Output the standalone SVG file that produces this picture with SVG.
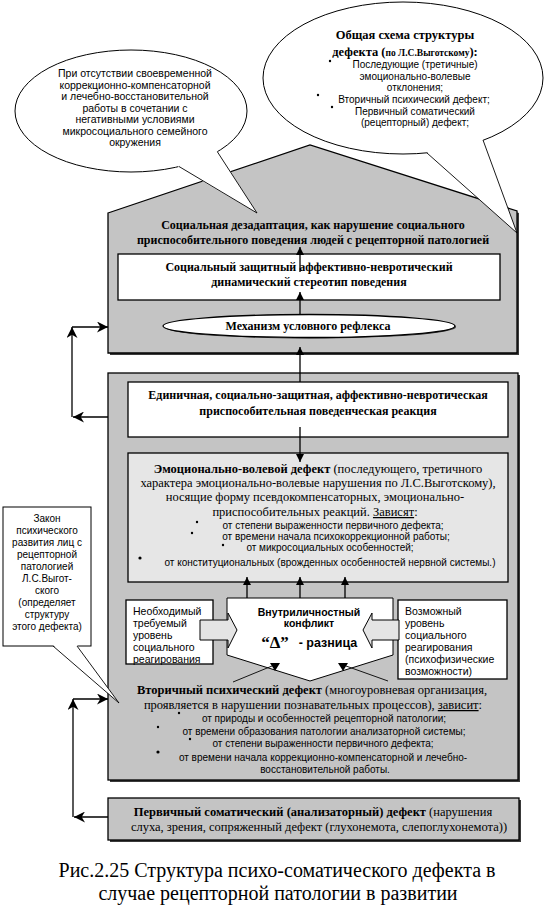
<svg xmlns="http://www.w3.org/2000/svg" width="545" height="917" viewBox="0 0 545 917">
<style>
.sb{font-family:"Liberation Serif",serif;font-weight:bold;font-size:12px;fill:#000}
.sr{font-family:"Liberation Serif",serif;font-size:12.5px;fill:#000}
.ss{font-family:"Liberation Sans",Arial,sans-serif;font-size:10px;fill:#000}
.sm{font-family:"Liberation Sans",Arial,sans-serif;font-size:10.5px;fill:#000}
.blk{fill:#c4c4c4;stroke:#000;stroke-width:1.3}
.shd{fill:#3a3a3a}
.wb{fill:#fff;stroke:#000;stroke-width:1.3}
.ln{stroke:#000;stroke-width:1.3;fill:none}
.thin{stroke:#000;stroke-width:0.9;fill:none}
</style>
<defs>
<marker id="ah" markerWidth="8" markerHeight="8" viewBox="0 0 10 10" refX="10" refY="5" orient="auto" markerUnits="userSpaceOnUse">
<path d="M0,0 L10,5 L0,10 z" fill="#000"/>
</marker>
<marker id="an" markerWidth="11" markerHeight="11" viewBox="0 0 10 10" refX="10" refY="5" orient="auto" markerUnits="userSpaceOnUse">
<path d="M0,0 L10,5 L0,10 L3,5 z" fill="#000"/>
</marker>
</defs>
<rect width="545" height="917" fill="#fff"/>

<g id="house">
<polygon class="shd" points="110,215 312,147 519,213 519,355 110,355"/>
<polygon class="blk" points="108,213 310,145 517,211 517,353 108,353"/>
<text class="sb" x="313" y="229" text-anchor="middle">Социальная дезадаптация, как нарушение социального</text>
<text class="sb" x="313" y="244" text-anchor="middle">приспособительного поведения людей с рецепторной патологией</text>
</g>
<g id="stereotype">
<rect class="wb" x="118" y="254" width="382" height="46"/>
<text class="sb" x="309" y="271" text-anchor="middle">Социальный защитный аффективно-невротический</text>
<text class="sb" x="309" y="286" text-anchor="middle">динамический стереотип поведения</text>
</g>
<g id="reflex">
<ellipse cx="310" cy="327" rx="146" ry="11.5" fill="#333"/>
<ellipse class="wb" cx="309" cy="326" rx="146" ry="11.5"/>
<text class="sb" x="308" y="330" text-anchor="middle">Механизм условного рефлекса</text>
</g>

<g id="callout-left">
<ellipse cx="131" cy="111" rx="116" ry="61" fill="#fff" stroke="#000" stroke-width="1"/>
<polygon points="178,167 257,213 218,152 200,140" fill="#fff"/>
<polyline class="thin" points="179,166.5 257,213 217.5,152"/>
<g class="sm" text-anchor="middle">
<text x="135" y="77">При отсутствии своевременной</text>
<text x="135" y="88.5">коррекционно-компенсаторной</text>
<text x="135" y="100">и лечебно-восстановительной</text>
<text x="135" y="111.5">работы в сочетании с</text>
<text x="135" y="123">негативными условиями</text>
<text x="135" y="134.5">микросоциального семейного</text>
<text x="135" y="146">окружения</text>
</g>
</g>

<g id="callout-right">
<ellipse cx="403" cy="78" rx="140" ry="76" fill="#fff" stroke="#000" stroke-width="1"/>
<polygon points="427,153 517,233 483,140 460,120" fill="#fff"/>
<polyline class="thin" points="427,153 517,233 483,140"/>
<text class="sb" x="405" y="39" text-anchor="middle" style="font-size:12.5px">Общая схема структуры</text>
<text class="sb" x="405" y="56" text-anchor="middle" style="font-size:12.5px">дефекта (<tspan style="font-size:9.5px">по Л.С.Выготскому</tspan>):</text>
<g class="ss" text-anchor="middle">
<text x="415" y="68">Последующие (третичные)</text>
<text x="415" y="80">эмоционально-волевые</text>
<text x="415" y="91">отклонения;</text>
<text x="414" y="103">Вторичный психический дефект;</text>
<text x="415" y="115">Первичный соматический</text>
<text x="415" y="126">(рецепторный) дефект;</text>
</g>
<circle cx="330" cy="61" r="1.2"/>
<circle cx="318" cy="95" r="1.2"/>
<circle cx="332" cy="107" r="1.2"/>
</g>

<g id="lower-block">
<rect class="shd" x="110" y="375" width="410" height="407"/>
<rect class="blk" x="108" y="373" width="410" height="407"/>
</g>
<g id="reaction">
<rect class="wb" x="128" y="382" width="380" height="55"/>
<text class="sb" x="318" y="399" text-anchor="middle">Единичная, социально-защитная, аффективно-невротическая</text>
<text class="sb" x="318" y="415" text-anchor="middle">приспособительная поведенческая реакция</text>
</g>
<g id="emotional">
<rect x="128" y="453" width="380" height="129" fill="#e6e6e6" stroke="#000" stroke-width="1.3"/>
<g class="sr" text-anchor="middle">
<text x="318" y="473"><tspan font-weight="bold">Эмоционально-волевой дефект</tspan> (последующего, третичного</text>
<text x="318" y="487">характера эмоционально-волевые нарушения по Л.С.Выготскому),</text>
<text x="315" y="501">носящие форму псевдокомпенсаторных, эмоционально-</text>
<text x="315" y="516">приспособительных реакций. <tspan text-decoration="underline">Зависят</tspan>:</text>
</g>
<g class="ss" text-anchor="middle">
<text x="333" y="529">от степени выраженности первичного дефекта;</text>
<text x="336" y="540">от времени начала психокоррекционной работы;</text>
<text x="330" y="551">от микросоциальных особенностей;</text>
<text x="330" y="566">от конституциональных (врожденных особенностей нервной системы.)</text>
</g>
<circle cx="197" cy="522" r="1.2"/>
<circle cx="192" cy="533" r="1.2"/>
<circle cx="223" cy="545" r="1.2"/>
<circle cx="140" cy="558" r="1.6"/>
</g>

<g id="need-box">
<rect class="wb" x="126" y="600" width="87" height="64" stroke-width="1"/>
<g class="sm">
<text x="133" y="615">Необходимый</text>
<text x="133" y="627">требуемый</text>
<text x="133" y="639">уровень</text>
<text x="133" y="651">социального</text>
<text x="133" y="663">реагирования</text>
</g>
</g>
<g id="possible-box">
<rect class="wb" x="398" y="600" width="109" height="79" stroke-width="1"/>
<g class="sm">
<text x="405" y="615">Возможный</text>
<text x="405" y="627">уровень</text>
<text x="405" y="639">социального</text>
<text x="405" y="651">реагирования</text>
<text x="405" y="663">(психофизические</text>
<text x="405" y="675">возможности)</text>
</g>
</g>
<g id="conflict">
<polygon points="227,598 393,598 393,655 310,681 227,655" fill="#fff" stroke="#000" stroke-width="1"/>
<text x="309" y="616" text-anchor="middle" style="font-family:'Liberation Sans',Arial,sans-serif;font-weight:bold;font-size:10.5px">Внутриличностный</text>
<text x="309" y="627" text-anchor="middle" style="font-family:'Liberation Sans',Arial,sans-serif;font-weight:bold;font-size:10.5px">конфликт</text>
<text x="275" y="648" text-anchor="middle" style="font-family:'Liberation Serif',serif;font-weight:bold;font-size:17px">“Δ”</text>
<text x="328" y="647" text-anchor="middle" style="font-family:'Liberation Sans',Arial,sans-serif;font-weight:bold;font-size:12.5px">- разница</text>
</g>
<g id="hollow-arrows">
<polygon points="200,620 228,620 228,613 237,630 228,648 228,640 200,640" fill="#e4e4e4" stroke="#000" stroke-width="1"/>
<polygon points="399,620 372,620 372,613 363,630 372,648 372,640 399,640" fill="#e4e4e4" stroke="#000" stroke-width="1"/>
</g>

<g id="secondary">
<g class="sr" text-anchor="middle">
<text x="312" y="694"><tspan font-weight="bold">Вторичный психический дефект</tspan> (многоуровневая организация,</text>
<text x="313" y="709">проявляется в нарушении познавательных процессов), <tspan text-decoration="underline">зависит</tspan>:</text>
</g>
<g class="ss" text-anchor="middle">
<text x="324" y="722">от природы и особенностей рецепторной патологии;</text>
<text x="324" y="735">от времени образования патологии анализаторной системы;</text>
<text x="323" y="747">от степени выраженности первичного дефекта;</text>
<text x="323" y="761">от времени начала коррекционно-компенсаторной и лечебно-</text>
<text x="325" y="773">восстановительной работы.</text>
</g>
<circle cx="179" cy="713" r="1.2"/>
<circle cx="158" cy="727" r="1.2"/>
<circle cx="190" cy="739" r="1.2"/>
<circle cx="158" cy="752" r="1.6"/>
</g>

<g id="primary">
<rect class="shd" x="110" y="800" width="411" height="42"/>
<rect class="blk" x="108" y="798" width="411" height="42"/>
<g class="sr" text-anchor="middle">
<text x="313" y="816"><tspan font-weight="bold">Первичный соматический (анализаторный) дефект</tspan> (нарушения</text>
<text x="319" y="831">слуха, зрения, сопряженный дефект  (глухонемота, слепоглухонемота))</text>
</g>
</g>

<g id="law-callout">
<rect x="3" y="507" width="88" height="139" fill="#fff" stroke="#000" stroke-width="1"/>
<polygon points="53,645 77,645 119,703" fill="#fff"/>
<polyline class="thin" points="53,646 119,703 77,646"/>
<g class="ss" text-anchor="middle">
<text x="47" y="522">Закон</text>
<text x="47" y="534">психического</text>
<text x="47" y="546">развития лиц с</text>
<text x="47" y="558">рецепторной</text>
<text x="47" y="570">патологией</text>
<text x="47" y="582">Л.С.Выгот-</text>
<text x="47" y="594">ского</text>
<text x="47" y="606">(определяет</text>
<text x="47" y="618">структуру</text>
<text x="47" y="630">этого дефекта)</text>
</g>
</g>

<g id="connectors">
<line class="ln" x1="300" y1="272" x2="300" y2="247" marker-end="url(#ah)"/>
<line class="ln" x1="300" y1="315" x2="300" y2="292" marker-end="url(#ah)"/>
<line class="ln" x1="300" y1="382" x2="300" y2="347" marker-end="url(#ah)"/>
<line class="ln" x1="300" y1="427" x2="300" y2="462" marker-end="url(#ah)"/>
<line class="ln" x1="247" y1="598" x2="247" y2="577" marker-end="url(#ah)"/>
<line class="ln" x1="300" y1="598" x2="300" y2="577" marker-end="url(#ah)"/>
<line class="ln" x1="345" y1="598" x2="345" y2="577" marker-end="url(#ah)"/>
<polyline class="thin" points="233,682 272,666"/>
<polyline class="thin" points="346,666 388,681"/>
<polygon points="270,663 280,663 275,671" fill="#000"/>
<polygon points="338,663 348,663 343,671" fill="#000"/>
<line class="ln" x1="108" y1="417" x2="73" y2="417" marker-end="url(#an)"/>
<line class="ln" x1="72" y1="417" x2="72" y2="327" marker-end="url(#an)"/>
<line class="ln" x1="72" y1="327" x2="108" y2="327" marker-end="url(#an)"/>
<line class="ln" x1="108" y1="817" x2="74" y2="817" marker-end="url(#an)"/>
<line class="ln" x1="73" y1="817" x2="73" y2="699" marker-end="url(#an)"/>
<line class="ln" x1="73" y1="699" x2="108" y2="699" marker-end="url(#an)"/>
</g>

<g id="caption" style="font-family:'Liberation Serif',serif;font-size:20px" text-anchor="middle">
<text x="277" y="877">Рис.2.25 Структура психо-соматического дефекта в</text>
<text x="278" y="900">случае рецепторной патологии в развитии</text>
</g>
</svg>
